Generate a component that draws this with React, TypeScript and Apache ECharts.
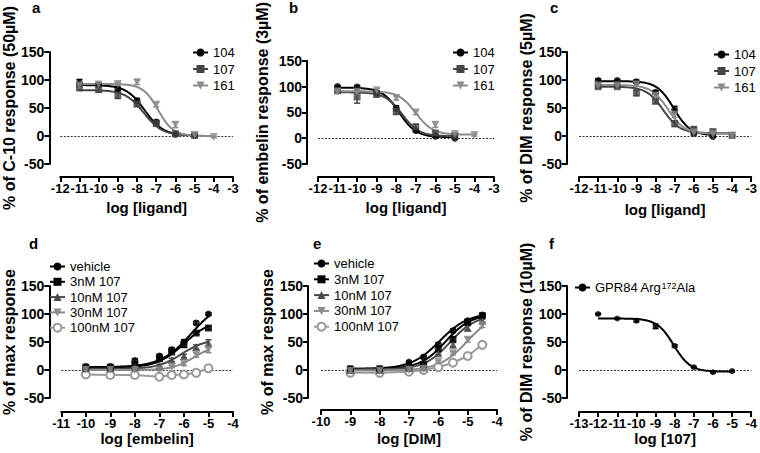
import React, { useEffect, useRef } from "react";
import * as echarts from "echarts";

const FONT = "'Liberation Sans', Arial, Helvetica, sans-serif";

// ---------- axis ranges (tick labels) ----------
const Y_RANGE = [-50, 150];
const Y_STEP = 50;
const ABC_X_RANGE = [-12, -3];
const D_X_RANGE = [-11, -4];
const E_X_RANGE = [-10, -4];
const F_X_RANGE = [-13, -4];

// ---------- Panel a: % of C-10 response (50µM) ----------
const aX = [-11, -10, -9, -8, -7, -6, -5];
const aX161 = [-11, -10, -9, -8, -7, -6, -5, -4];
const a104 = [95, 91, 84, 63, 25, 3, 1];
const a104Err = [6, 4, 3, 4, 3, 2, 1];
const a107 = [87, 83, 73, 57, 22, 4, 1];
const a107Err = [6, 5, 6, 4, 3, 2, 2];
const a161 = [90, 92, 93, 96, 56, 20, 2, -2];
const a161Err = [3, 3, 3, 4, 4, 5, 2, 1];
// fitted curve parameters: [top, bottom, logEC50, hill slope]
const a104Fit = [91, 1, -7.6, -0.9];
const a107Fit = [82, 1, -7.65, -0.9];
const a161Fit = [93, 0, -6.9, -1.1];

// ---------- Panel b: % of embelin response (3µM) ----------
const bX = [-11, -10, -9, -8, -7, -6, -5];
const bX161 = [-11, -10, -9, -8, -7, -6, -5, -4];
const b104 = [100, 99, 88, 58, 15, 4, 0];
const b104Err = [2, 3, 4, 5, 3, 2, 1];
const b107 = [92, 80, 85, 52, 22, 10, 5];
const b107Err = [3, 12, 5, 6, 5, 3, 2];
const b161 = [90, 90, 93, 78, 50, 26, 8, 6];
const b161Err = [2, 3, 3, 4, 4, 5, 2, 2];
const b104Fit = [98, 2, -7.85, -1];
const b107Fit = [89, 4, -7.7, -1];
const b161Fit = [91, 7, -7.0, -1];

// ---------- Panel c: % of DIM response (5µM) ----------
const cX104 = [-11, -10, -9, -8, -7, -6, -5];
const cX = [-11, -10, -9, -8, -7, -6, -5, -4];
const c104 = [99, 99, 97, 78, 47, 5, -1];
const c104Err = [3, 2, 3, 3, 6, 3, 1];
const c107 = [88, 88, 77, 62, 22, 12, 8, 1];
const c107Err = [3, 2, 5, 4, 5, 4, 2, 1];
const c161 = [90, 90, 92, 72, 38, 6, 3, 1];
const c161Err = [2, 2, 3, 3, 5, 3, 2, 1];
const c104Fit = [98, 1, -7.05, -1];
const c107Fit = [88, 5, -7.6, -1];
const c161Fit = [91, 4, -7.35, -1];

// ---------- Panel d: % of max response vs log [embelin] ----------
const dX = [-10, -9, -8, -7, -6.5, -6, -5.5, -5];
const dVeh = [6, 6, 17, 25, 36, 50, 84, 100];
const dVehErr = [1, 1, 3, 3, 4, 4, 3, 2];
const d3 = [5, 5, 10, 20, 32, 45, 66, 75];
const d3Err = [1, 1, 2, 3, 3, 4, 3, 3];
const d10 = [3, 3, 5, 8, 18, 25, 41, 48];
const d10Err = [1, 1, 1, 2, 3, 3, 4, 6];
const d30 = [0, 0, 0, 0, 6, 11, 27, 36];
const d30Err = [1, 1, 1, 1, 2, 3, 4, 5];
const d100 = [-8, -9, -9, -12, -9, -8, -5, 3];
const d100Err = [1, 1, 1, 2, 1, 1, 1, 2];
const dVehFit = [125, 5, -5.7, 0.7];
const d3Fit = [90, 4, -6.0, 0.8];
const d10Fit = [55, 2, -6.1, 0.9];
const d30Fit = [45, 0, -5.6, 1];

// ---------- Panel e: % of max response vs log [DIM] ----------
const eX = [-9, -8, -7, -6.5, -6, -5.5, -5, -4.5];
const eVeh = [2, 2, 14, 23, 45, 70, 88, 98];
const eVehErr = [1, 1, 2, 3, 4, 3, 3, 2];
const e3 = [2, 2, 5, 10, 38, 55, 85, 97];
const e3Err = [1, 1, 1, 2, 4, 4, 3, 3];
const e10 = [0, 0, 3, 5, 30, 45, 75, 88];
const e10Err = [1, 1, 1, 2, 3, 4, 4, 3];
const e30 = [-2, -2, 0, 2, 15, 30, 54, 80];
const e30Err = [1, 1, 1, 1, 2, 3, 4, 4];
const e100 = [-5, -5, -3, 0, 5, 13, 25, 45];
const e100Err = [1, 1, 1, 1, 1, 2, 2, 3];
const eVehFit = [102, 2, -5.95, 0.9];
const e3Fit = [100, 2, -5.75, 1];
const e10Fit = [98, 1, -5.6, 1];
const e30Fit = [105, -1, -5.0, 0.9];

// ---------- Panel f: % of DIM response (10µM) vs log [107] ----------
const fX = [-12, -11, -10, -9, -8, -7, -6, -5];
const fVals = [100, 92, 88, 78, 43, 5, -4, -2];
const fErr = [1, 1, 2, 4, 2, 1, 1, 1];
const fFit = [92, -3, -8.05, -1];

// ---------- layout ----------
const GRIDS = [
  { left: 57, top: 52, width: 176, height: 112 },
  { left: 318, top: 52, width: 176, height: 112 },
  { left: 579, top: 52, width: 176, height: 112 },
  { left: 57, top: 286, width: 176, height: 112 },
  { left: 321, top: 286, width: 176, height: 112 },
  { left: 579, top: 286, width: 176, height: 112 },
];

type Sty = { color: string; symbol: string; rotate: number; size: number };
const S104: Sty = { color: "#000000", symbol: "circle", rotate: 0, size: 7 };
const S107: Sty = { color: "#454545", symbol: "rect", rotate: 0, size: 7 };
const S161: Sty = { color: "#8c8c8c", symbol: "triangle", rotate: 180, size: 8 };
const SVEH: Sty = { color: "#000000", symbol: "circle", rotate: 0, size: 7 };
const S3: Sty = { color: "#000000", symbol: "rect", rotate: 0, size: 7 };
const S10: Sty = { color: "#4a4a4a", symbol: "triangle", rotate: 0, size: 8 };
const S30: Sty = { color: "#8a8a8a", symbol: "triangle", rotate: 180, size: 8 };
const S100: Sty = { color: "#9a9a9a", symbol: "emptyCircle", rotate: 0, size: 8 };
const SF: Sty = { color: "#000000", symbol: "circle", rotate: 0, size: 6 };

function fitCurve(p: number[], x0: number, x1: number) {
  const [top, bottom, ec50, hill] = p;
  const n = 90;
  const out: number[][] = [];
  for (let i = 0; i <= n; i++) {
    const x = x0 + ((x1 - x0) * i) / n;
    out.push([x, bottom + (top - bottom) / (1 + Math.pow(10, (ec50 - x) * hill))]);
  }
  return out;
}

let uid = 0;
function dataset(
  g: number,
  name: string,
  xs: number[],
  ys: number[],
  errs: number[],
  sty: Sty,
  fit: number[] | null,
  zeroLine: boolean
) {
  uid++;
  const pts = xs.map((x, i) => [x, ys[i]]);
  const series: any[] = [];
  const curve: any = {
    type: "line",
    name,
    xAxisIndex: g,
    yAxisIndex: g,
    data: fit ? fitCurve(fit, xs[0], xs[xs.length - 1]) : pts,
    symbol: sty.symbol,
    symbolRotate: sty.rotate,
    symbolSize: sty.size,
    showSymbol: !fit,
    lineStyle: { color: sty.color, width: 2 },
    itemStyle: { color: sty.color, borderWidth: sty.symbol === "emptyCircle" ? 2.5 : 0 },
    silent: true,
    z: 3,
  };
  if (zeroLine) {
    curve.markLine = {
      silent: true,
      symbol: "none",
      label: { show: false },
      lineStyle: { type: [2, 1.5], color: "#333", width: 1 },
      data: [{ yAxis: 0 }],
      z: 1,
    };
  }
  series.push(curve);
  series.push({
    type: "custom",
    name: `err-${uid}`,
    xAxisIndex: g,
    yAxisIndex: g,
    silent: true,
    z: 2,
    data: xs.map((x, i) => [x, ys[i], errs[i]]),
    encode: { x: 0, y: 1 },
    renderItem: (_p: any, api: any) => {
      const x = api.value(0);
      const y = api.value(1);
      const e = api.value(2);
      const t = api.coord([x, y + e]);
      const b = api.coord([x, y - e]);
      const w = 3;
      const style = { stroke: sty.color, lineWidth: 1.5 };
      return {
        type: "group",
        children: [
          { type: "line", shape: { x1: t[0], y1: t[1], x2: b[0], y2: b[1] }, style },
          { type: "line", shape: { x1: t[0] - w, y1: t[1], x2: t[0] + w, y2: t[1] }, style },
          { type: "line", shape: { x1: b[0] - w, y1: b[1], x2: b[0] + w, y2: b[1] }, style },
        ],
      };
    },
  });
  if (fit) {
    series.push({
      type: "scatter",
      name: `pts-${uid}`,
      xAxisIndex: g,
      yAxisIndex: g,
      data: pts,
      symbol: sty.symbol,
      symbolRotate: sty.rotate,
      symbolSize: sty.size,
      itemStyle: { color: sty.color },
      silent: true,
      z: 4,
    });
  }
  return series;
}

const axisText = { color: "#000", fontWeight: "bold" as const, fontFamily: FONT };

function yAxis(g: number, name: string, nameGap: number, offset: number) {
  return {
    type: "value",
    gridIndex: g,
    min: Y_RANGE[0],
    max: Y_RANGE[1],
    interval: Y_STEP,
    offset,
    name,
    nameLocation: "middle",
    nameGap,
    nameTextStyle: { ...axisText, fontSize: 16 },
    axisLine: { show: true, onZero: false, lineStyle: { color: "#000", width: 2 } },
    axisTick: { show: true, length: 5, lineStyle: { color: "#000", width: 2 } },
    axisLabel: { ...axisText, fontSize: 14, margin: 5 },
    splitLine: { show: false },
  };
}

function xAxis(g: number, range: number[], name: string, nameGap: number, offset: number) {
  return {
    type: "value",
    gridIndex: g,
    min: range[0],
    max: range[1],
    interval: 1,
    offset,
    name,
    nameLocation: "middle",
    nameGap,
    nameTextStyle: { ...axisText, fontSize: 15 },
    axisLine: { show: true, onZero: false, lineStyle: { color: "#000", width: 2 } },
    axisTick: { show: true, length: 5, lineStyle: { color: "#000", width: 2 } },
    axisLabel: { ...axisText, fontSize: 13, margin: 5, interval: 0, showMinLabel: true, showMaxLabel: true },
    splitLine: { show: false },
  };
}

function legend(left: number, top: number, names: string[], gap: number, extra: any = {}) {
  return {
    orient: "vertical",
    left,
    top,
    padding: 0,
    itemGap: gap,
    itemWidth: 15,
    itemHeight: 10,
    selectedMode: false,
    data: names,
    textStyle: { fontSize: 13, color: "#000", fontFamily: FONT },
    ...extra,
  };
}

const ABC_NAMES = ["104", "107", "161"];
const DE_NAMES = ["vehicle", "3nM 107", "10nM 107", "30nM 107", "100nM 107"];
const F_NAME = "GPR84 Arg172Ala";

function buildOption() {
  const series: any[] = [
    ...dataset(0, "104", aX, a104, a104Err, S104, a104Fit, true),
    ...dataset(0, "107", aX, a107, a107Err, S107, a107Fit, false),
    ...dataset(0, "161", aX161, a161, a161Err, S161, a161Fit, false),
    ...dataset(1, "104", bX, b104, b104Err, S104, b104Fit, true),
    ...dataset(1, "107", bX, b107, b107Err, S107, b107Fit, false),
    ...dataset(1, "161", bX161, b161, b161Err, S161, b161Fit, false),
    ...dataset(2, "104", cX104, c104, c104Err, S104, c104Fit, true),
    ...dataset(2, "107", cX, c107, c107Err, S107, c107Fit, false),
    ...dataset(2, "161", cX, c161, c161Err, S161, c161Fit, false),
    ...dataset(3, "vehicle", dX, dVeh, dVehErr, SVEH, dVehFit, true),
    ...dataset(3, "3nM 107", dX, d3, d3Err, S3, d3Fit, false),
    ...dataset(3, "10nM 107", dX, d10, d10Err, S10, d10Fit, false),
    ...dataset(3, "30nM 107", dX, d30, d30Err, S30, d30Fit, false),
    ...dataset(3, "100nM 107", dX, d100, d100Err, S100, null, false),
    ...dataset(4, "vehicle", eX, eVeh, eVehErr, SVEH, eVehFit, true),
    ...dataset(4, "3nM 107", eX, e3, e3Err, S3, e3Fit, false),
    ...dataset(4, "10nM 107", eX, e10, e10Err, S10, e10Fit, false),
    ...dataset(4, "30nM 107", eX, e30, e30Err, S30, e30Fit, false),
    ...dataset(4, "100nM 107", eX, e100, e100Err, S100, null, false),
    ...dataset(5, F_NAME, fX, fVals, fErr, SF, fFit, true),
  ];

  const letter = (t: string, left: number, top: number) => ({
    text: t,
    left,
    top,
    padding: 0,
    textStyle: { fontSize: 15, fontWeight: "bold", color: "#000", fontFamily: FONT },
  });

  return {
    animation: false,
    backgroundColor: "#ffffff",
    title: [
      letter("a", 32, 0),
      letter("b", 289, 0),
      letter("c", 550, 0),
      letter("d", 29, 236),
      letter("e", 313, 236),
      letter("f", 549, 236),
    ],
    grid: GRIDS,
    xAxis: [
      xAxis(0, ABC_X_RANGE, "log [ligand]", 23, 13),
      xAxis(1, ABC_X_RANGE, "log [ligand]", 23, 13),
      xAxis(2, ABC_X_RANGE, "log [ligand]", 25, 13),
      xAxis(3, D_X_RANGE, "log [embelin]", 17, 14),
      xAxis(4, E_X_RANGE, "log [DIM]", 21, 12),
      xAxis(5, F_X_RANGE, "log [107]", 18, 14),
    ],
    yAxis: [
      yAxis(0, "% of C-10 response (50µM)", 30, 11),
      yAxis(1, "% of embelin response (3µM)", 37, 11),
      yAxis(2, "% of DIM response (5µM)", 29, 12),
      yAxis(3, "% of max response", 28, 12),
      yAxis(4, "% of max response", 29, 13),
      yAxis(5, "% of DIM response (10µM)", 29, 12),
    ],
    legend: [
      legend(192, 46, ABC_NAMES, 3.5),
      legend(452, 46, ABC_NAMES, 3.5),
      legend(713, 48, ABC_NAMES, 3.5),
      legend(49, 260, DE_NAMES, 2.3),
      legend(313, 257, DE_NAMES, 2.8),
      legend(574, 281, [F_NAME], 3, {
        formatter: () => "{t|GPR84 Arg}{s|172}{t|Ala}",
        textStyle: {
          color: "#000",
          fontFamily: FONT,
          rich: {
            t: { fontSize: 13, color: "#000", fontFamily: FONT },
            s: { fontSize: 9, color: "#000", fontFamily: FONT, verticalAlign: "top" },
          },
        },
      }),
    ],
    series,
  };
}

export default function App() {
  const ref = useRef<HTMLDivElement | null>(null);
  useEffect(() => {
    if (!ref.current) return;
    const chart = echarts.init(ref.current, undefined, { renderer: "svg" });
    chart.setOption(buildOption() as any);
    return () => chart.dispose();
  }, []);
  return (
    <div
      ref={ref}
      style={{ position: "fixed", left: 0, top: 0, width: 760, height: 453, background: "#fff" }}
    />
  );
}
